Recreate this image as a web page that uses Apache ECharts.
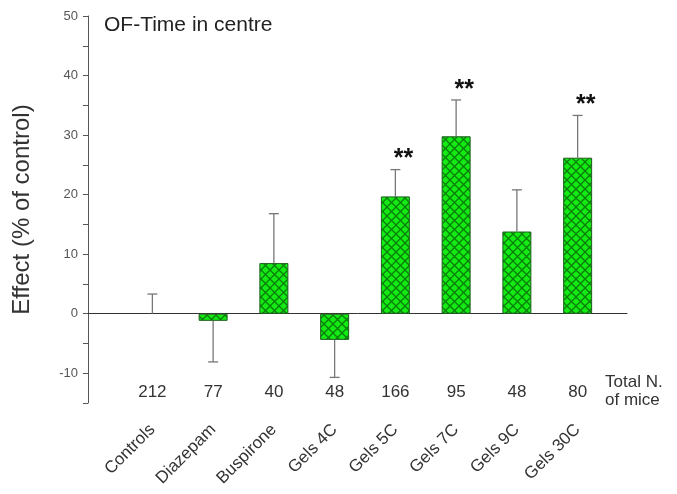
<!DOCTYPE html>
<html>
<head>
<meta charset="utf-8">
<script src="https://cdn.jsdelivr.net/npm/echarts@6/dist/echarts.min.js"></script>
<style>html,body{margin:0;padding:0;background:#fff;}#c{width:677px;height:494px;}</style>
</head>
<body>
<div id="c"></div>
<script>
const categories = ['Controls', 'Diazepam', 'Buspirone', 'Gels 4C', 'Gels 5C', 'Gels 7C', 'Gels 9C', 'Gels 30C'];
const effects = [0, -1.2, 8.5, -4.4, 19.7, 29.8, 13.8, 26.2];
const errors = [3.3, 6.9, 8.3, 6.3, 4.5, 6.1, 7.0, 7.1];
const nMice = ['212', '77', '40', '48', '166', '95', '48', '80'];
const signif = ['', '', '', '', '**', '**', '', '**'];
const yTicks = [-10, 0, 10, 20, 30, 40, 50];

function makePattern() {
  const s = 9;
  const cv = document.createElement('canvas');
  cv.width = s; cv.height = s;
  const g = cv.getContext('2d');
  g.fillStyle = '#14ea14';
  g.fillRect(0, 0, s, s);
  g.strokeStyle = '#0b7d0b';
  g.lineWidth = 1.3;
  g.beginPath();
  g.moveTo(0, 0); g.lineTo(s, s);
  g.moveTo(s, 0); g.lineTo(0, s);
  g.stroke();
  return cv;
}

const chart = echarts.init(document.getElementById('c'), null, {renderer: 'canvas'});
const FONT = 'Liberation Sans, Arial, sans-serif';

const option = {
  animation: false,
  backgroundColor: '#fff',
  title: [
    {text: 'OF-Time in centre', left: 104, top: 15, padding: 0,
     textStyle: {fontSize: 21, fontWeight: 'normal', color: '#222', fontFamily: FONT}},
    {text: 'Total N.\nof mice', left: 605, top: 373, padding: 0,
     textStyle: {fontSize: 17, lineHeight: 18, fontWeight: 'normal', color: '#333', fontFamily: FONT}}
  ],
  grid: [
    {left: 88, right: 50, top: 16, bottom: 91},
    {left: 122, right: 69, top: 16, bottom: 91}
  ],
  xAxis: [
    {type: 'category', gridIndex: 0, data: [''],
     axisLine: {show: true, onZero: true, lineStyle: {color: '#333', width: 1}},
     axisTick: {show: false}, axisLabel: {show: false}, splitLine: {show: false}},
    {type: 'category', gridIndex: 1, data: categories,
     axisLine: {show: false}, axisTick: {show: false}, splitLine: {show: false},
     axisLabel: {rotate: 45, margin: 24, fontSize: 17, color: '#333', fontFamily: FONT, interval: 0}},
    {type: 'category', gridIndex: 1, data: nMice, position: 'bottom',
     axisLine: {show: false}, axisTick: {show: false}, splitLine: {show: false},
     axisLabel: {margin: -19, fontSize: 17, color: '#333', fontFamily: FONT, interval: 0}}
  ],
  yAxis: [
    {type: 'value', gridIndex: 0, min: -15, max: 50, interval: 5,
     name: 'Effect (% of control)', nameLocation: 'middle', nameGap: 54,
     nameTextStyle: {fontSize: 24, color: '#333', fontFamily: FONT},
     axisLine: {show: true, lineStyle: {color: '#555', width: 1}},
     axisTick: {show: true, length: 5, lineStyle: {color: '#555'}},
     splitLine: {show: false},
     axisLabel: {margin: 10, fontSize: 13, color: '#555', fontFamily: FONT,
       formatter: v => (yTicks.indexOf(v) >= 0 ? String(v) : '')}},
    {type: 'value', gridIndex: 1, min: -15, max: 50, show: false}
  ],
  series: [
    {type: 'bar', xAxisIndex: 1, yAxisIndex: 1, barWidth: 29,
     data: effects.map(v => (v === 0 ? {value: v, itemStyle: {borderWidth: 0}} : v)),
     itemStyle: {color: {image: makePattern(), repeat: 'repeat'}, borderColor: '#1f5f1f', borderWidth: 1},
     z: 3},
    {type: 'custom', xAxisIndex: 1, yAxisIndex: 1,
     data: categories.map((c, i) => [i, effects[i], errors[i]]),
     encode: {x: 0, y: 1},
     z: 2,
     renderItem: function (params, api) {
       const i = api.value(0), v = api.value(1), e = api.value(2);
       const dir = v < 0 ? -1 : 1;
       const p0 = api.coord([i, v]);
       const p1 = api.coord([i, v + dir * e]);
       const half = 5;
       const st = {stroke: '#777', lineWidth: 1.3};
       const children = [
         {type: 'line', shape: {x1: p0[0], y1: p0[1], x2: p1[0], y2: p1[1]}, style: st},
         {type: 'line', shape: {x1: p1[0] - half, y1: p1[1], x2: p1[0] + half, y2: p1[1]}, style: st}
       ];
       const s = signif[params.dataIndex];
       if (s) {
         children.push({type: 'text', style: {text: s, x: p1[0] + 8, y: p1[1] - 10,
           align: 'center', verticalAlign: 'middle', fill: '#111',
           font: 'bold 25px ' + FONT}});
       }
       return {type: 'group', children: children};
     }}
  ]
};
chart.setOption(option);
</script>
</body>
</html>
